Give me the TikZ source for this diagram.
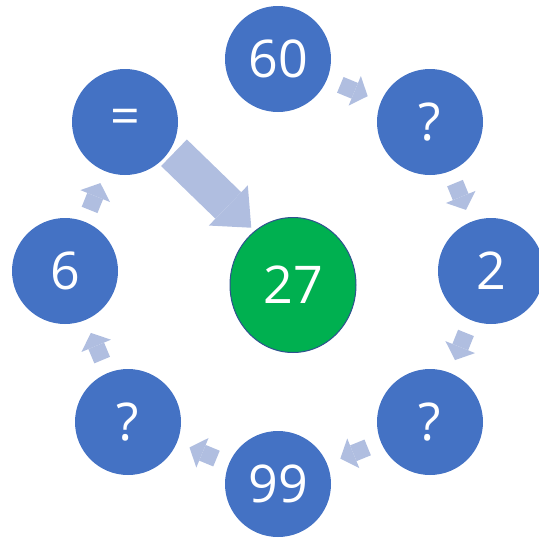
\documentclass[tikz,border=0pt]{standalone}
\usepackage{fontspec}
\setmainfont{Open Sans}
\usetikzlibrary{shapes.geometric,arrows.meta,calc}
\definecolor{ballblue}{HTML}{4472C4}
\definecolor{ballgreen}{HTML}{00B050}
\definecolor{rimblue}{HTML}{2F528F}
\definecolor{flowblue}{RGB}{176,190,224}
\tikzset{
  ball/.style={circle, fill=ballblue, minimum size=106pt, inner sep=0pt,
    text=white, font=\fontsize{52}{60}\selectfont},
  target/.style={ellipse, fill=ballgreen, draw=rimblue, line width=1pt,
    minimum width=126pt, minimum height=135pt, inner sep=0pt,
    text=white, font=\fontsize{52}{60}\selectfont},
  flow/.style={draw=flowblue, line width=17pt,
    -{Triangle[length=14pt,width=32pt,line width=0pt]}},
  bigflow/.style={draw=flowblue, line width=37pt,
    -{Triangle[length=32pt,width=56pt,line width=0pt]}}
}
\begin{document}
\begin{tikzpicture}[x=1pt,y=-1pt]
\useasboundingbox (0,0) rectangle (539,542);
% ring
\node[ball] (n60) at (278,59) {60};
\node[ball] (q1) at (430,122) {?};
\node[ball] (n2) at (491,271) {2};
\node[ball] (q2) at (430,422) {?};
\node[ball] (n99) at (278,484) {99};
\node[ball] (q3) at (128,422) {?};
\node[ball] (n6) at (65,271) {6};
\node[ball] (eq) at (125,122) {=};
% result
\node[target] (res) at (293,285) {27};
% small arrows
\draw[flow] ($(n60)!.41!(q1)$) -- ($(n60)!.59!(q1)$);
\draw[flow] ($(q1)!.41!(n2)$) -- ($(q1)!.59!(n2)$);
\draw[flow] ($(n2)!.41!(q2)$) -- ($(n2)!.59!(q2)$);
\draw[flow] ($(q2)!.41!(n99)$) -- ($(q2)!.59!(n99)$);
\draw[flow] ($(n99)!.41!(q3)$) -- ($(n99)!.59!(q3)$);
\draw[flow] ($(q3)!.41!(n6)$) -- ($(q3)!.59!(n6)$);
\draw[flow] ($(n6)!.41!(eq)$) -- ($(n6)!.59!(eq)$);
% big arrow
\draw[bigflow] ($(eq)!.25!(res)+(7,-10)$) -- ($(eq)!.71!(res)+(7,-10)$);
\end{tikzpicture}
\end{document}
